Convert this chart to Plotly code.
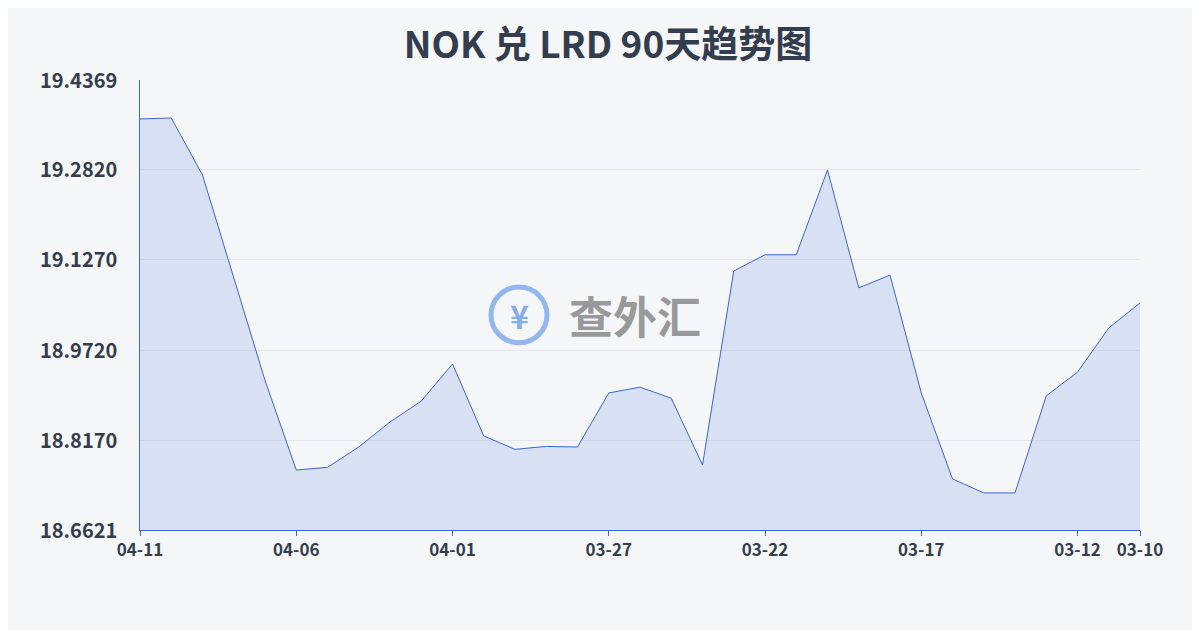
import plotly.graph_objects as go

dates = ["04-11","04-10","04-09","04-08","04-07","04-06","04-05","04-04","04-03","04-02","04-01",
         "03-31","03-30","03-29","03-28","03-27","03-26","03-25","03-24","03-23","03-22","03-21",
         "03-20","03-19","03-18","03-17","03-16","03-15","03-14","03-13","03-12","03-11","03-10"]
rates = [19.3698,19.3715,19.2733,19.097,18.9197,18.7654,18.770,18.805,18.848,18.884,18.948,
         18.824,18.801,18.806,18.805,18.898,18.908,18.889,18.774,19.108,19.136,19.136,
         19.282,19.079,19.101,18.898,18.750,18.726,18.726,18.893,18.934,19.010,19.053]
xticks = ["04-11","04-06","04-01","03-27","03-22","03-17","03-12","03-10"]
yticks = [18.6621,18.8170,18.9720,19.1270,19.2820,19.4369]
ylabels = ["18.6621","18.8170","18.9720","19.1270","19.2820","19.4369"]

fig = go.Figure(go.Scatter(x=dates, y=rates, mode="lines",
    line=dict(color="#3a66d0", width=1), fill="tozeroy",
    fillcolor="rgba(90,130,220,0.18)"))

fig.update_layout(
    width=1200, height=630, margin=dict(l=132, r=68, t=72, b=108),
    paper_bgcolor="#f5f6f8", plot_bgcolor="#f5f6f8", showlegend=False,
    title=dict(text="<b>NOK 兑 LRD 90天趋势图</b>", x=0.5, y=0.962, xanchor="center",
               font=dict(family="Noto Sans CJK SC", size=37, color="#333d4d")),
    font=dict(family="Noto Sans CJK SC", color="#333d4d"),
    xaxis=dict(type="category", tickvals=xticks, ticktext=[f"<b>{t}</b>" for t in xticks],
               range=[0, len(dates)-1], showgrid=False, showline=True, linecolor="#3a66d0",
               ticks="outside", ticklen=5, tickcolor="#3a66d0", tickfont=dict(size=17)),
    yaxis=dict(range=[18.6621, 19.4369], tickvals=yticks, showticklabels=False,
               showgrid=True, gridcolor="#e3e6ea", zeroline=False, showline=True, linecolor="#3a66d0"),
)
for v, t in zip(yticks, ylabels):
    fig.add_annotation(x=-0.102, xref="paper", y=v, yref="y", xanchor="left", yanchor="middle",
                       showarrow=False, text=f"<b>{t}</b>", font=dict(size=20, color="#333d4d"), yshift=1)
fig.add_annotation(x=0.495, y=0.478, xref="paper", yref="paper", showarrow=False,
    text="<b>查外汇</b>", font=dict(size=44, color="rgba(90,90,90,0.6)"))
fig.add_shape(type="circle", xref="paper", yref="paper", x0=0.351, x1=0.407, y0=0.416, y1=0.540,
    line=dict(color="rgba(80,140,230,0.6)", width=5))
fig.add_annotation(x=0.379, y=0.478, xref="paper", yref="paper", showarrow=False,
    text="<b>¥</b>", font=dict(size=32, color="rgba(80,140,230,0.7)"))
fig.write_html("out.html")
